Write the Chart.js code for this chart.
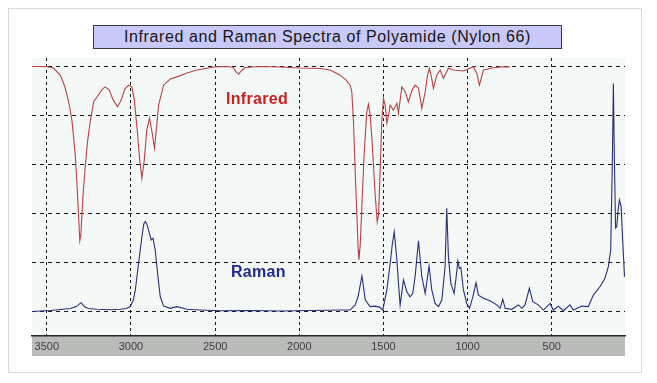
<!DOCTYPE html>
<html>
<head>
<meta charset="utf-8">
<script src="https://cdn.jsdelivr.net/npm/chart.js@4/dist/chart.umd.min.js"></script>
<style>
  html, body { margin: 0; padding: 0; background: #ffffff; }
  body { width: 657px; height: 383px; position: relative; overflow: hidden; font-family: "Liberation Sans", Arial, sans-serif; }
  #frame { position: absolute; left: 8px; top: 8px; width: 634px; height: 365px; border: 1px solid #d9d9d9; box-sizing: border-box; }
  #wrap { position: absolute; left: 0; top: 0; width: 657px; height: 383px; }
  #title { position: absolute; left: 93px; top: 25px; width: 469px; height: 24px; box-sizing: border-box;
           background: #c9c9f9; border: 1px solid #3a3a3a; text-align: center; line-height: 22px;
           font-size: 16px; color: #151515; letter-spacing: 0.6px; white-space: nowrap; }
  .lbl { position: absolute; font-weight: bold; font-size: 16px; letter-spacing: 0.3px; }
  #irLbl { left: 226px; top: 90px; color: #cc1f1f; }
  #raLbl { left: 231px; top: 263px; color: #1f2a8c; }
</style>
</head>
<body>
<div id="frame"></div>
<div id="wrap"><canvas id="c" width="657" height="383"></canvas></div>
<div id="title">Infrared and Raman Spectra of Polyamide (Nylon 66)</div>
<div class="lbl" id="irLbl">Infrared</div>
<div class="lbl" id="raLbl">Raman</div>
<script>
// Wavenumber (cm-1) and relative intensity
const irWavenumbers = [3588,3539,3499,3461,3420,3396,3380,3363,3350,3331,3319,3310,3304,3298,3285,3271,3257,3242,3222,3194,3170,3153,3129,3105,3080,3058,3037,3014,2994,2980,2963,2948,2935,2921,2906,2890,2877,2860,2847,2836,2806,2767,2727,2672,2608,2499,2422,2393,2375,2360,2345,2321,2232,2113,1995,1876,1817,1757,1722,1698,1688,1678,1668,1658,1650,1646,1638,1628,1615,1599,1589,1579,1569,1549,1537,1529,1520,1510,1500,1490,1480,1469,1460,1441,1420,1411,1391,1371,1352,1330,1312,1292,1272,1252,1238,1227,1214,1203,1183,1163,1144,1114,1084,1025,966,945,930,906,847,788,748];
const irValues = [100,100,99.9,99.4,96.5,92.4,88.4,83.1,77.5,63.9,49.6,37.3,28.9,31.2,47.5,59.8,70,77.5,85.6,88.4,90.8,91.7,90.4,86.3,83.6,86.3,90.8,92.4,91.6,86.3,74.1,61.8,54.4,61.8,74.1,78.9,74.1,66.6,76.1,84.3,92.4,94.9,95.8,97.3,98.6,99.9,100,99.6,97.8,96.9,98.2,99.6,100,99.8,99.4,99.2,98.6,96.5,94.5,92.4,89.7,77.5,57.1,39.4,25.1,21,27.1,43.5,63.9,81.5,84.6,80.2,70.8,47.5,36.5,39.4,57.1,77.5,87,84.3,76.9,80.2,84.3,82.2,85,80.9,91.7,89.7,85.6,90.4,92.4,91.2,82.9,89.7,96.5,99.3,95.3,91.1,96.5,98.6,95.2,99.3,98.6,98.2,99.9,97.2,92.4,98.6,99.5,99.9,99.8];

const ramanWavenumbers = [3588,3539,3479,3420,3360,3325,3297,3277,3254,3202,3123,3064,3028,3004,2986,2974,2955,2935,2924,2915,2906,2896,2880,2869,2856,2842,2826,2806,2767,2727,2667,2589,2470,2292,2113,1935,1757,1698,1668,1650,1638,1628,1620,1608,1579,1549,1520,1504,1480,1460,1448,1436,1420,1410,1401,1381,1361,1342,1326,1312,1292,1272,1252,1229,1213,1193,1173,1153,1134,1124,1114,1100,1080,1068,1058,1049,1040,1025,1005,989,969,950,936,906,867,827,807,791,777,738,698,678,659,633,613,580,550,510,491,461,431,392,372,322,283,253,214,184,164,150,140,134,128,121,114,106,98,88,78,68];
const ramanValues = [0,0.2,0.4,0.8,1.2,2,3.6,2,1.2,0.9,0.7,0.9,1.2,2,4.7,8.8,19.7,30.5,35.7,36.7,35.7,33.3,29.2,29.9,25.1,15.6,6,2.2,1.3,2,0.9,0.6,0.3,0.4,0.2,0.4,0.6,0.6,2.7,6.3,10.8,14.5,10.8,4.7,2,2.2,1.7,0.6,8.8,19.7,27.1,32.6,21,10.8,2.7,12.9,8.1,6,7.4,14.2,28.9,14.2,7.4,18.6,8.8,3.3,2,4.7,18.3,42.1,22.4,11.5,7.4,14.2,20.6,17.6,18,8.8,3.3,1.3,6,11.8,6.7,5.4,4.4,2.7,1.3,5,1.3,0.9,2.7,1.3,2.7,9.5,4,2.7,0.6,3.3,0.6,2.2,0.3,2.7,0.6,2.2,2,6.7,10.1,13.6,18.3,25.1,61.8,93.1,61.8,34.1,34.6,41.4,45.5,42.8,28,14.2];

const xTickLabels = [3500,3000,2500,2000,1500,1000,500];
const yGridValues = [0,20,40,60,80,100];

function pts(xs, ys) { return xs.map((x, i) => ({ x: x, y: ys[i] })); }

const bgPlugin = {
  id: 'bg',
  beforeDraw(chart) {
    const { ctx, chartArea: a } = chart;
    ctx.save();
    ctx.fillStyle = '#f4f8f6';
    ctx.fillRect(a.left, a.top, a.right - a.left, a.bottom - a.top);
    ctx.fillStyle = '#b9bcb9';
    ctx.fillRect(a.left, a.bottom, a.right - a.left, 20);
    ctx.restore();
  }
};

new Chart(document.getElementById('c'), {
  type: 'line',
  data: {
    datasets: [
      { data: pts(irWavenumbers, irValues), borderColor: '#b84444', borderWidth: 1.1, pointRadius: 0, tension: 0 },
      { data: pts(ramanWavenumbers, ramanValues), borderColor: '#27307a', borderWidth: 1.1, pointRadius: 0, tension: 0 }
    ]
  },
  options: {
    responsive: false,
    animation: false,
    events: [],
    layout: { padding: { left: 32, right: 32, top: 58, bottom: 27 } },
    plugins: { legend: { display: false }, tooltip: { enabled: false } },
    scales: {
      x: {
        type: 'linear', reverse: true, min: 65, max: 3588,
        afterBuildTicks(s) { s.ticks = xTickLabels.map(v => ({ value: v })); },
        afterFit(s) { s.height = 20; },
        grid: { color: '#1a1a1a', lineWidth: 1, drawTicks: false },
        border: { display: true, color: '#2a2a2a', width: 1.5, dash: [3, 3] },
        ticks: { color: '#3c3c3c', padding: 4, callback: v => String(v),
                 font: { family: '"Liberation Sans", Arial, sans-serif', size: 11 } }
      },
      y: {
        min: -10, max: 103.5,
        afterBuildTicks(s) { s.ticks = yGridValues.map(v => ({ value: v })); },
        afterFit(s) { s.width = 0; },
        grid: { color: '#1a1a1a', lineWidth: 1, drawTicks: false },
        border: { display: false, dash: [4, 4] },
        ticks: { display: false }
      }
    }
  },
  plugins: [bgPlugin]
});
</script>
</body>
</html>
